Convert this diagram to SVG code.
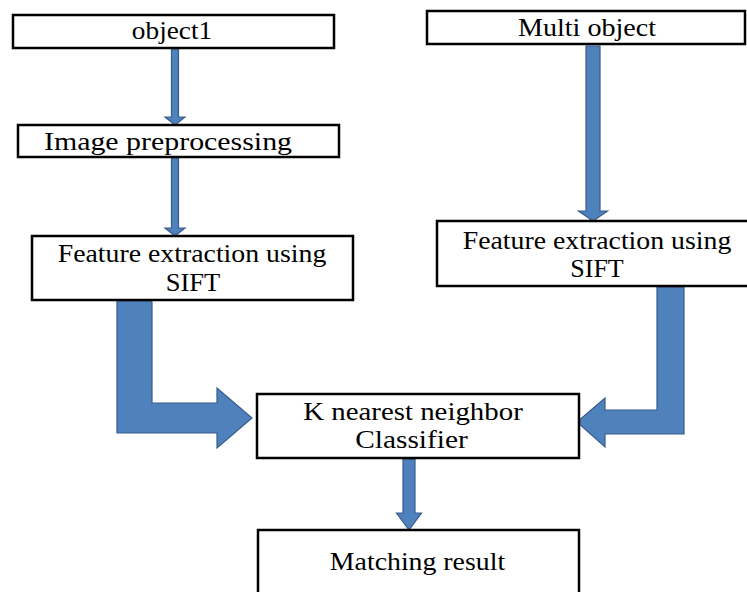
<svg xmlns="http://www.w3.org/2000/svg" width="747" height="592" viewBox="0 0 747 592">
<style>
.box{fill:#fff;stroke:#000;stroke-width:2.5}
.arr{fill:#4F81BD;stroke:#385D8A;stroke-width:1.2;stroke-linejoin:miter}
text{font-family:"Liberation Serif","Times New Roman",serif;font-size:26px;fill:#000;text-anchor:middle}
</style>
<rect width="747" height="592" fill="#fff"/>
<g id="connectors">
<polygon class="arr" points="171.5,49 178.5,49 178.5,117 185,117 175,125 165,117 171.5,117"/>
<polygon class="arr" points="171.5,158 178.5,158 178.5,228 185,228 175,236 165,228 171.5,228"/>
<polygon class="arr" points="586,46 600,46 600,211 607.5,211 593,221 578.5,211 586,211"/>
<polygon class="arr" points="403,459 415,459 415,513 421.5,513 409,530 396.5,513 403,513"/>
<polygon class="arr" points="117,301 152,301 152,403 217,403 217,388 252,418 217,448 217,433 117,433"/>
<polygon class="arr" points="657,287 684,287 684,434 605,434 605,447 577,422 605,398 605,410 657,410"/>
</g>
<g id="object1">
<rect class="box" x="13" y="15" width="321" height="33"/>
<text transform="translate(172,39) scale(1.05,1)">object1</text>
</g>
<g id="preprocessing">
<rect class="box" x="18" y="125" width="321" height="32"/>
<text transform="translate(168,150) scale(1.15,1)">Image preprocessing</text>
</g>
<g id="multi">
<rect class="box" x="427" y="11" width="318" height="33"/>
<text transform="translate(587,36) scale(1.08,1)">Multi object</text>
</g>
<g id="featureLeft">
<rect class="box" x="32" y="236" width="321" height="64"/>
<text transform="translate(192,262) scale(1.07,1)">Feature extraction using</text>
<text transform="translate(193,291) scale(1.02,1)">SIFT</text>
</g>
<g id="featureRight">
<rect class="box" x="437" y="221" width="314" height="65"/>
<text transform="translate(597,249) scale(1.07,1)">Feature extraction using</text>
<text transform="translate(597,277) scale(1.0,1)">SIFT</text>
</g>
<g id="knn">
<rect class="box" x="257" y="394" width="322" height="64"/>
<text transform="translate(413,420) scale(1.11,1)">K nearest neighbor</text>
<text transform="translate(411.5,448) scale(1.13,1)">Classifier</text>
</g>
<g id="matching">
<rect class="box" x="258" y="530" width="321" height="80"/>
<text transform="translate(417.5,570) scale(1.07,1)">Matching result</text>
</g>
</svg>
